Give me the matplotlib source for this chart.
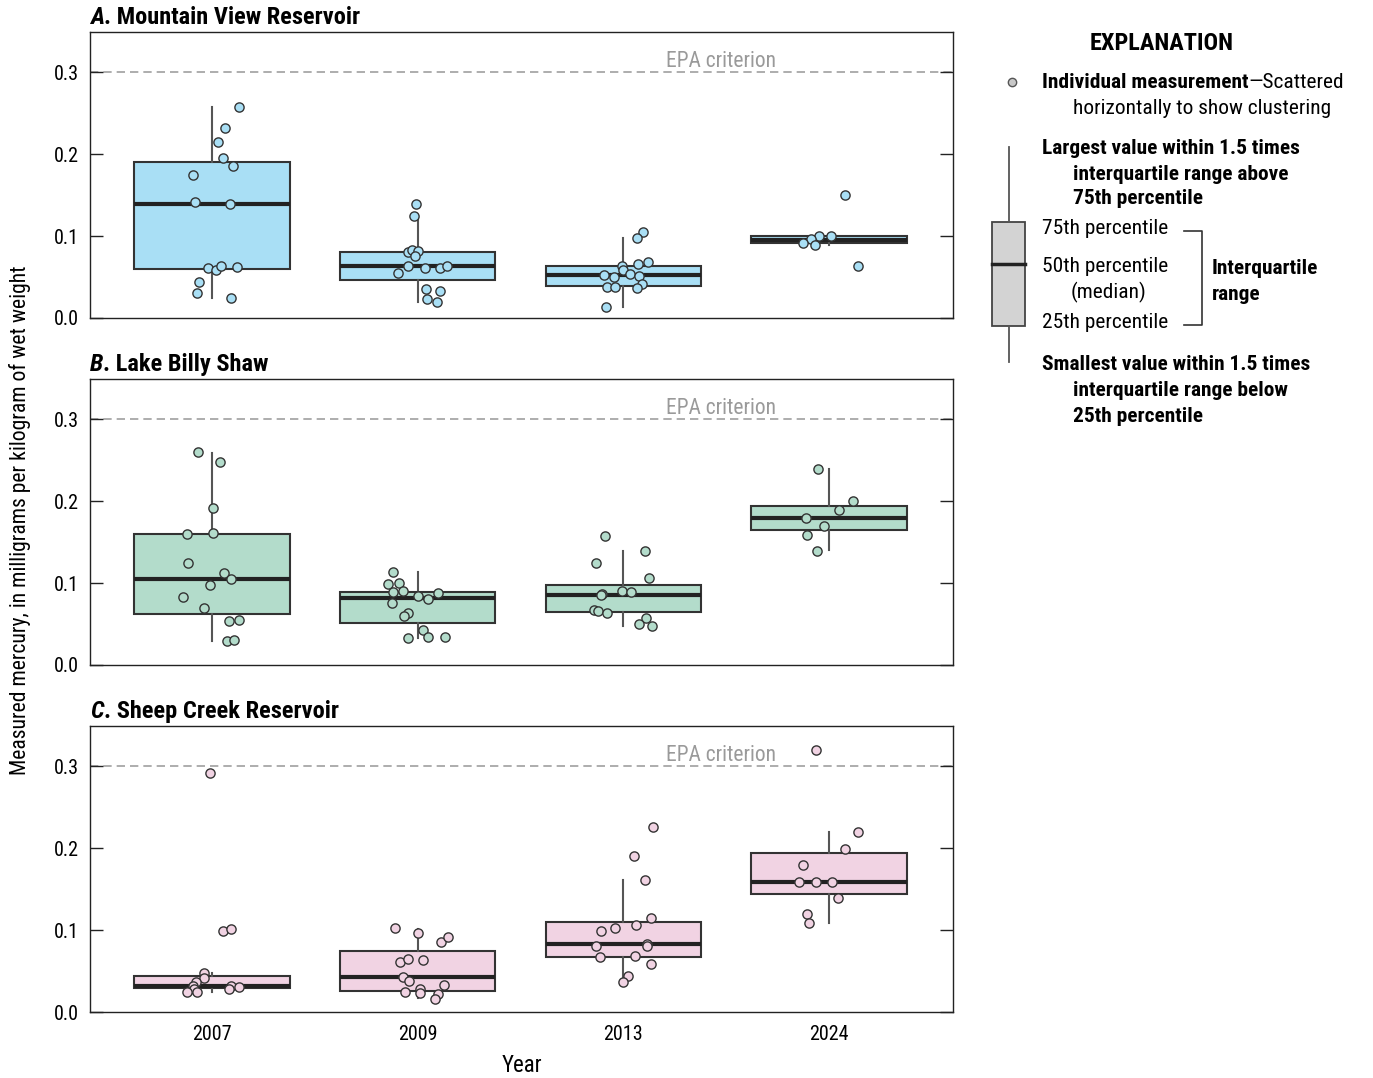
# -*- coding: utf-8 -*-

import matplotlib
matplotlib.use('Agg')
import matplotlib.pyplot as plt
from matplotlib.patches import Rectangle

plt.rcParams['font.family'] = ['Roboto Condensed', 'DejaVu Sans']

years = ['2007', '2009', '2013', '2024']
epa_criterion = 0.3

# Mountain View Reservoir
mv_vals = [
    [0.257, 0.232, 0.215, 0.195, 0.185, 0.174, 0.141, 0.139, 0.061, 0.058,
     0.063, 0.062, 0.044, 0.031, 0.024],
    [0.139, 0.125, 0.081, 0.083, 0.082, 0.076, 0.064, 0.055, 0.061, 0.061,
     0.063, 0.035, 0.033, 0.023, 0.020],
    [0.105, 0.097, 0.068, 0.066, 0.063, 0.059, 0.054, 0.052, 0.050, 0.051,
     0.042, 0.038, 0.038, 0.036, 0.013],
    [0.150, 0.100, 0.100, 0.096, 0.092, 0.089, 0.064],
]
mv_jit = [
    [0.131, 0.063, 0.028, 0.053, 0.102, -0.091, -0.084, 0.088, -0.018, 0.019,
     0.042, 0.120, -0.063, -0.071, 0.092],
    [-0.007, -0.019, -0.049, -0.028, 0.001, -0.012, -0.047, -0.094, 0.034, 0.110,
     0.142, 0.039, 0.107, 0.045, 0.092],
    [0.097, 0.065, 0.118, 0.070, -0.007, -0.003, 0.034, -0.094, -0.046, 0.076,
     0.089, -0.078, -0.039, 0.066, -0.085],
    [0.079, 0.009, -0.049, -0.088, -0.127, -0.070, 0.142],
]
# whislo, q1, median, q3, whishi
mv_box = [
    (0.024, 0.060, 0.139, 0.190, 0.257),
    (0.019, 0.046, 0.063, 0.081, 0.125),
    (0.013, 0.039, 0.052, 0.064, 0.097),
    (0.089, 0.091, 0.095, 0.100, 0.100),
]

# Lake Billy Shaw
bs_vals = [
    [0.260, 0.247, 0.192, 0.160, 0.161, 0.125, 0.112, 0.105, 0.097, 0.083,
     0.069, 0.054, 0.055, 0.029, 0.031],
    [0.113, 0.099, 0.100, 0.089, 0.090, 0.084, 0.081, 0.088, 0.076, 0.064,
     0.060, 0.043, 0.034, 0.033, 0.034],
    [0.157, 0.139, 0.124, 0.106, 0.087, 0.085, 0.090, 0.089, 0.067, 0.066,
     0.063, 0.057, 0.050, 0.047],
    [0.239, 0.200, 0.189, 0.179, 0.170, 0.159, 0.139],
]
bs_jit = [
    [-0.070, 0.037, 0.006, -0.123, 0.005, -0.115, 0.058, 0.092, -0.010, -0.141,
     -0.039, 0.083, 0.131, 0.073, 0.107],
    [-0.119, -0.144, -0.092, -0.120, -0.071, 0.003, 0.050, 0.099, -0.126, -0.047,
     -0.068, 0.026, 0.050, -0.049, 0.131],
    [-0.088, 0.106, -0.135, 0.123, -0.105, -0.109, -0.007, 0.038, -0.143, -0.123,
     -0.081, 0.110, 0.076, 0.138],
    [-0.051, 0.116, 0.050, -0.114, -0.026, -0.107, -0.060],
]
bs_box = [
    (0.029, 0.062, 0.105, 0.160, 0.259),
    (0.033, 0.051, 0.082, 0.089, 0.113),
    (0.047, 0.065, 0.085, 0.098, 0.139),
    (0.140, 0.165, 0.179, 0.194, 0.239),
]

# Sheep Creek Reservoir
sc_vals = [
    [0.291, 0.099, 0.101, 0.048, 0.041, 0.036, 0.032, 0.028, 0.024, 0.024,
     0.032, 0.028, 0.030],
    [0.102, 0.096, 0.085, 0.092, 0.061, 0.065, 0.063, 0.043, 0.038, 0.033,
     0.024, 0.028, 0.023, 0.022, 0.016],
    [0.226, 0.190, 0.161, 0.115, 0.106, 0.102, 0.099, 0.081, 0.083, 0.081,
     0.067, 0.068, 0.059, 0.044, 0.036],
    [0.319, 0.219, 0.199, 0.179, 0.159, 0.159, 0.159, 0.139, 0.120, 0.109],
]
sc_jit = [
    [-0.008, 0.052, 0.092, -0.037, -0.040, -0.079, -0.092, -0.086, -0.122, -0.073,
     0.094, 0.083, 0.133],
    [-0.112, 0.003, 0.113, 0.146, -0.086, -0.046, 0.026, -0.073, -0.041, 0.126,
     -0.062, 0.011, 0.011, 0.097, 0.084],
    [0.142, 0.050, 0.106, 0.133, 0.060, -0.039, -0.107, -0.132, 0.113, 0.113,
     -0.114, 0.056, 0.133, 0.021, -0.003],
    [-0.062, 0.142, 0.077, -0.128, -0.145, -0.062, 0.016, 0.045, -0.106, -0.099],
]
sc_box = [
    (0.024, 0.029, 0.032, 0.044, 0.047),
    (0.017, 0.026, 0.043, 0.075, 0.101),
    (0.036, 0.067, 0.083, 0.110, 0.161),
    (0.109, 0.144, 0.159, 0.194, 0.219),
]

panels = [
    ('A', 'Mountain View Reservoir', mv_vals, mv_jit, mv_box, '#a9dff5'),
    ('B', 'Lake Billy Shaw', bs_vals, bs_jit, bs_box, '#b3dccb'),
    ('C', 'Sheep Creek Reservoir', sc_vals, sc_jit, sc_box, '#f1d3e3'),
]

W, H = 1373, 1078
fig = plt.figure(figsize=(W / 100, H / 100), dpi=100)

edge = '#333333'
tops = [32, 379, 726]
for i, (letter, name, vals, jit, box, color) in enumerate(panels):
    top = tops[i]
    ax = fig.add_axes([90 / W, 1 - (top + 286) / H, 863 / W, 286 / H])

    stats = []
    for lo, q1, med, q3, hi in box:
        stats.append(dict(whislo=lo, q1=q1, med=med, q3=q3, whishi=hi,
                          fliers=[]))
    ax.bxp(stats, positions=range(len(years)), widths=0.754,
           showcaps=False, showfliers=False, patch_artist=True,
           boxprops=dict(facecolor=color, edgecolor=edge, linewidth=1.5),
           whiskerprops=dict(color='#555555', linewidth=1.5),
           medianprops=dict(color='#222222', linewidth=3))

    for k, (v, j) in enumerate(zip(vals, jit)):
        xs = [k + d for d in j]
        ax.scatter(xs, v, s=44, facecolor=color, edgecolor=edge,
                   linewidth=1.0, zorder=4)

    ax.axhline(epa_criterion, color='#a0a0a0', linewidth=1.2,
               linestyle=(0, (5, 3)), zorder=1)
    ax.text(2.475, epa_criterion, 'EPA criterion', color='#9a9a9a',
            fontsize=15.5, ha='center', va='bottom')

    ax.set_xlim(-0.593, 3.603)
    ax.set_ylim(0, 0.3488)
    ax.set_yticks([0.0, 0.1, 0.2, 0.3])
    ax.set_yticklabels(['0.0', '0.1', '0.2', '0.3'])
    ax.tick_params(axis='y', direction='in', length=9.5, width=1.0,
                   left=True, right=True, labelsize=14.5, pad=8,
                   color='#222222')
    ax.set_xticks(range(len(years)))
    if i == 2:
        ax.set_xticklabels(years)
        ax.tick_params(axis='x', length=0, labelsize=14.5, pad=9)
    else:
        ax.set_xticklabels([])
        ax.tick_params(axis='x', length=0)
    for sp in ax.spines.values():
        sp.set_color('#222222')
        sp.set_linewidth(1.0)

    t = ax.annotate(letter, xy=(0, 1), xycoords='axes fraction',
                    xytext=(0, 2), textcoords='offset points',
                    fontsize=17.6, fontweight='bold', fontstyle='italic',
                    ha='left', va='bottom')
    ax.annotate('. ' + name, xy=(1, 0), xycoords=t, ha='left', va='bottom',
                fontsize=17.6, fontweight='bold')

fig.text(521.5 / W, 1 - 1065 / H, 'Year', fontsize=16.5, ha='center',
         va='center')
fig.text(20 / W, 1 - 520 / H,
         'Measured mercury, in milligrams per kilogram of wet weight',
         fontsize=15.6, rotation=90, ha='center', va='center')

# explanation, drawn in pixel coordinates
lg = fig.add_axes([0, 0, 1, 1], zorder=-1)
lg.set_xlim(0, W)
lg.set_ylim(H, 0)
lg.axis('off')

fs = 15.4
lg.text(1162, 44, 'EXPLANATION', fontsize=17.5, fontweight='bold',
        ha='center', va='center')
lg.plot([1012], [82], 'o', markersize=6, markerfacecolor='#c8c8c8',
        markeredgecolor='#555555', markeredgewidth=1.0)
t1 = lg.text(1042, 82, 'Individual measurement', fontsize=fs,
             fontweight='bold', va='center')
lg.annotate('\u2014Scattered', xy=(1, 0), xycoords=t1, va='bottom',
            fontsize=fs)
lg.text(1073, 108, 'horizontally to show clustering', fontsize=fs,
        va='center')

lg.plot([1009, 1009], [147, 222], color='#555555', linewidth=1.3)
lg.plot([1009, 1009], [326, 362], color='#555555', linewidth=1.3)
lg.add_patch(Rectangle((992, 222), 33, 104, facecolor='#d3d3d3',
                       edgecolor='#444444', linewidth=1.3))
lg.plot([992, 1025], [264, 264], color='#222222', linewidth=2.5)

lg.text(1042, 148, 'Largest value within 1.5 times', fontsize=fs,
        fontweight='bold', va='center')
lg.text(1073, 174, 'interquartile range above', fontsize=fs,
        fontweight='bold', va='center')
lg.text(1073, 199, '75th percentile', fontsize=fs, fontweight='bold',
        va='center')
lg.text(1042, 228, '75th percentile', fontsize=fs, va='center')
lg.text(1042, 267, '50th percentile', fontsize=fs, va='center')
lg.text(1109, 292, '(median)', fontsize=fs, va='center', ha='center')
lg.text(1042, 323, '25th percentile', fontsize=fs, va='center')
lg.plot([1184, 1202, 1202, 1184], [231, 231, 325, 325], color='#333333',
        linewidth=1.2)
lg.text(1212, 268, 'Interquartile', fontsize=fs, fontweight='bold',
        va='center')
lg.text(1212, 294, 'range', fontsize=fs, fontweight='bold', va='center')
lg.text(1042, 365, 'Smallest value within 1.5 times', fontsize=fs,
        fontweight='bold', va='center')
lg.text(1073, 391, 'interquartile range below', fontsize=fs,
        fontweight='bold', va='center')
lg.text(1073, 417, '25th percentile', fontsize=fs, fontweight='bold',
        va='center')

fig.savefig('out.png', dpi=100)
